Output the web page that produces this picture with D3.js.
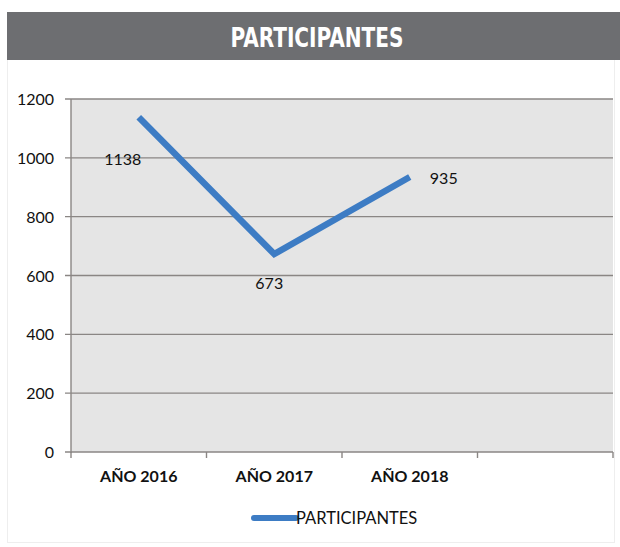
<!DOCTYPE html>
<html><head><meta charset="utf-8">
<script src="https://cdn.jsdelivr.net/npm/d3@7"></script>
<style>body{margin:0;background:#fff}svg{display:block}</style>
</head><body>
<script>
const title = "PARTICIPANTES";
const categories = ["AÑO 2016", "AÑO 2017", "AÑO 2018", ""];
const values = [1138, 673, 935];
const yTicks = [0, 200, 400, 600, 800, 1000, 1200];
const seriesName = "PARTICIPANTES";

const W = 620, H = 547;
const svg = d3.select("body").append("svg").attr("width", W).attr("height", H);
const font = "Lato, 'Open Sans', sans-serif";

// outer frame
svg.append("rect").attr("x", 7.5).attr("y", 12.5).attr("width", 607).attr("height", 530)
  .attr("fill", "#fff").attr("stroke", "#eeeeee");
// header
svg.append("rect").attr("x", 7).attr("y", 12).attr("width", 613).attr("height", 48).attr("fill", "#6d6e71");
svg.append("text").attr("x", 317).attr("y", 47).attr("text-anchor", "middle")
  .attr("fill", "#fff").attr("font-family", "'Liberation Sans Narrow', 'DejaVu Sans Condensed', sans-serif")
  .attr("font-weight", "bold").attr("font-size", 27).attr("textLength", 173).attr("lengthAdjust", "spacingAndGlyphs")
  .text(title);

const m = {l: 71, r: 613, t: 99, b: 452};
const x = d3.scaleBand().domain(categories.map((c,i)=>i)).range([m.l, m.r]);
const y = d3.scaleLinear().domain([0, 1200]).range([m.b, m.t]);

svg.append("rect").attr("x", m.l).attr("y", m.t).attr("width", m.r - m.l).attr("height", m.b - m.t).attr("fill", "#e5e5e5");

// gridlines
svg.append("g").selectAll("line").data(yTicks).join("line")
  .attr("x1", m.l - 6).attr("x2", m.r).attr("y1", d => y(d)).attr("y2", d => y(d))
  .attr("stroke", "#8a8684").attr("stroke-width", 1.4);

// y axis line
svg.append("line").attr("x1", m.l).attr("x2", m.l).attr("y1", m.t).attr("y2", m.b + 1)
  .attr("stroke", "#8a8684").attr("stroke-width", 1.4);

// y labels
svg.append("g").selectAll("text").data(yTicks).join("text")
  .attr("x", 54).attr("y", d => y(d) + 6).attr("text-anchor", "end")
  .attr("font-family", font).attr("font-size", 16).attr("fill", "#111").text(d => d);

// x ticks
const xt = d3.range(categories.length + 1).map(i => m.l + i * x.step());
svg.append("g").selectAll("line").data(xt).join("line")
  .attr("x1", d => d).attr("x2", d => d).attr("y1", m.b).attr("y2", m.b + 6)
  .attr("stroke", "#8a8684").attr("stroke-width", 1.4);

svg.append("g").selectAll("text").data(categories).join("text")
  .attr("x", (d,i) => x(i) + x.bandwidth()/2).attr("y", 482).attr("text-anchor", "middle")
  .attr("font-family", font).attr("font-weight", "bold").attr("font-size", 16).attr("fill", "#111").text(d => d);

// line
const line = d3.line().x((d,i) => x(i) + x.bandwidth()/2).y(d => y(d));
svg.append("path").datum(values).attr("d", line).attr("fill", "none")
  .attr("stroke", "#3d7cc4").attr("stroke-width", 6.5).attr("stroke-linejoin", "miter");

// data labels
const offs = [[-16, 48], [-5, 35], [34, 7]];
svg.append("g").selectAll("text").data(values).join("text")
  .attr("x", (d,i) => x(i) + x.bandwidth()/2 + offs[i][0])
  .attr("y", (d,i) => y(d) + offs[i][1]).attr("text-anchor", "middle")
  .attr("font-family", font).attr("font-size", 16).attr("fill", "#111").text(d => d);

// legend
svg.append("line").attr("x1", 254).attr("x2", 296).attr("y1", 518).attr("y2", 518)
  .attr("stroke", "#3d7cc4").attr("stroke-width", 6).attr("stroke-linecap", "round");
svg.append("text").attr("x", 296).attr("y", 524).attr("font-family", font)
  .attr("font-size", 16.5).attr("fill", "#111").text(seriesName);
</script>
</body></html>
